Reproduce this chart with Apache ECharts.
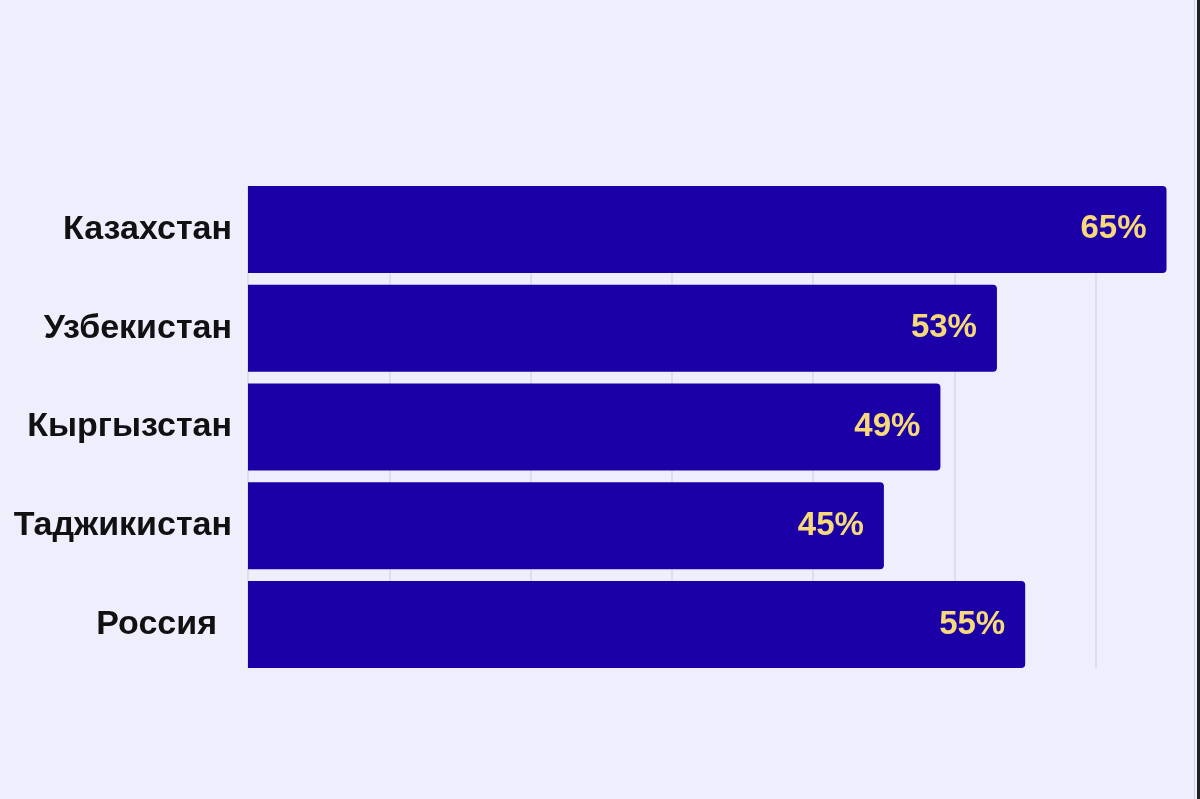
<!DOCTYPE html>
<html>
<head>
<meta charset="utf-8">
<script src="https://cdn.jsdelivr.net/npm/echarts@6/dist/echarts.min.js"></script>
<style>
html,body{margin:0;padding:0;background:#eeeefc;}
#c{width:1200px;height:799px;}
</style>
</head>
<body>
<div id="c"></div>
<script>
const categories = ['Казахстан', 'Узбекистан', 'Кыргызстан', 'Таджикистан', 'Россия'];
const values = [65, 53, 49, 45, 55];
const axisMax = 67.37;
const axisInterval = 10;

const chart = echarts.init(document.getElementById('c'));
const labelFont = 'Liberation Sans, Arial, sans-serif';
chart.setOption({
  backgroundColor: '#eeeefc',
  animation: false,
  grid: [
    { left: 248, right: 0, top: 180, height: 494 },
    { left: 248, right: 0, top: 186, height: 482 }
  ],
  xAxis: [
    { gridIndex: 0, type: 'value', min: 0, max: axisMax, interval: axisInterval,
      axisLabel: { show: false }, axisLine: { show: false }, axisTick: { show: false },
      splitLine: { show: false } },
    { gridIndex: 1, type: 'value', min: 0, max: axisMax, interval: axisInterval,
      axisLabel: { show: false }, axisLine: { show: false }, axisTick: { show: false },
      splitLine: { show: true, lineStyle: { color: '#d9d9e6', width: 1.5 } } }
  ],
  yAxis: [
    { gridIndex: 0, type: 'category', data: categories, inverse: true,
      axisLine: { show: false }, axisTick: { show: false },
      axisLabel: {
        margin: 16,
        color: '#111111',
        fontFamily: labelFont,
        fontWeight: 'bold',
        fontSize: 34,
        formatter: function (v) { return v === 'Россия' ? '{r|' + v + '}' : v; },
        rich: { r: { color: '#111111', fontFamily: labelFont, fontWeight: 'bold', fontSize: 34, padding: [0, 15, 0, 0] } }
      } },
    { gridIndex: 1, type: 'category', data: categories, inverse: true, show: false }
  ],
  series: [{
    type: 'bar',
    xAxisIndex: 0, yAxisIndex: 0,
    data: values,
    barWidth: 87,
    itemStyle: { color: '#1a00a6', borderRadius: [0, 4, 4, 0] },
    label: {
      show: true,
      position: 'insideRight',
      distance: 20,
      formatter: '{c}%',
      color: '#f8d97a',
      fontFamily: labelFont,
      fontWeight: 'bold',
      fontSize: 33
    }
  }],
  graphic: [
    { type: 'rect', z: 100, shape: { x: 1197, y: 0, width: 3, height: 799 }, style: { fill: '#222222' } },
    { type: 'rect', z: 100, shape: { x: 1194, y: 0, width: 1, height: 799 }, style: { fill: '#d4d4e2' } }
  ]
});
</script>
</body>
</html>
